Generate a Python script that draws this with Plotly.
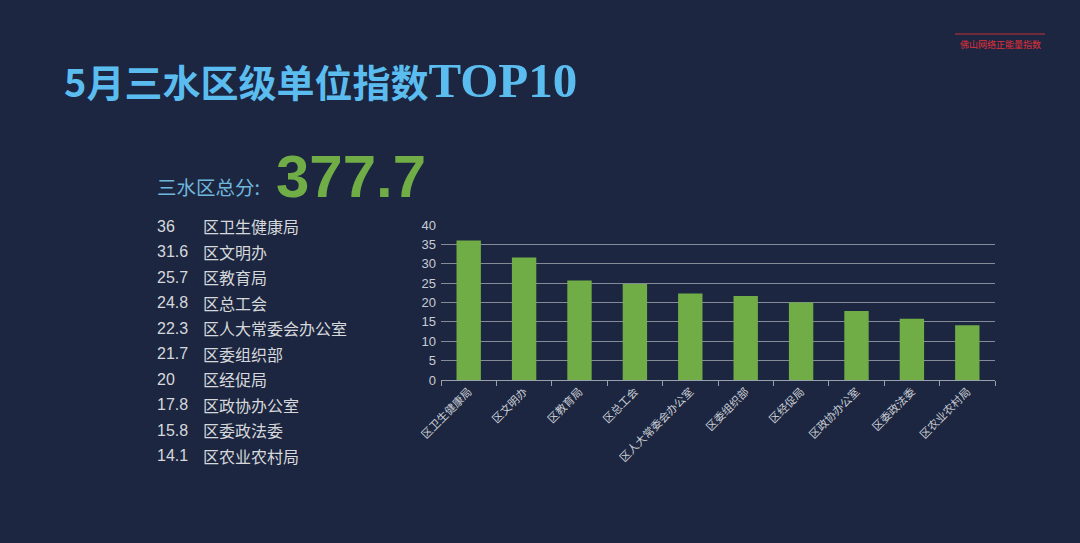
import plotly.graph_objects as go

categories = ["区卫生健康局", "区文明办", "区教育局", "区总工会", "区人大常委会办公室",
              "区委组织部", "区经促局", "区政协办公室", "区委政法委", "区农业农村局"]
values = [36, 31.6, 25.7, 24.8, 22.3, 21.7, 20, 17.8, 15.8, 14.1]
total_score = "377.7"
y_ticks = [0, 5, 10, 15, 20, 25, 30, 35, 40]

W, H = 1080, 543
BG = "#1c2640"
CJK = "Noto Sans CJK SC"
XS, YS = 0, 0

fig = go.Figure()
fig.add_trace(go.Bar(x=categories, y=values, marker=dict(color="#70ad47", line=dict(width=0)),
                     hoverinfo="x+y"))

def px(x):
    return x / W

def py(y):
    return 1 - y / H

fig.update_layout(
    width=W, height=H, autosize=False,
    margin=dict(l=0, r=0, t=0, b=0, pad=0, autoexpand=False),
    paper_bgcolor=BG, plot_bgcolor=BG,
    showlegend=False,
    bargap=0.56,
    font=dict(family=CJK, color="#d0d3d9"),
    xaxis=dict(domain=[px(441), px(995)], type="category", showgrid=False, automargin=False,
               showline=True, linecolor="#9aa0aa", linewidth=1,
               ticks="outside", ticklen=5, tickcolor="#9aa0aa", tickson="boundaries",
               tickangle=-45, tickfont=dict(size=11, color="#c8ccd4", family=CJK)),
    yaxis=dict(domain=[py(380), py(225)], range=[0, 40], tickvals=y_ticks, automargin=False,
               showgrid=True, gridcolor="#858b96", gridwidth=1, zeroline=False,
               showline=False, ticks="", ticklen=0, ticklabelstandoff=4,
               tickfont=dict(size=13, color="#c8ccd4", family="Liberation Sans")),
)

ann = []
# title
ann.append(dict(text="<b>5月三水区级单位指数<span style='font-family:Liberation Serif;font-size:49px'>TOP10</span></b>",
                x=px(62), y=py(80), xref="paper", yref="paper", xshift=XS, yshift=YS,
                xanchor="left", yanchor="middle", showarrow=False,
                font=dict(size=38, color="#5bbcef", family=CJK)))
# brand
ann.append(dict(text="佛山网络正能量指数", x=px(1000), y=py(44), xref="paper", yref="paper",
                xanchor="center", yanchor="middle", showarrow=False,
                font=dict(size=9, color="#e0303a", family=CJK)))
# total
ann.append(dict(text="三水区总分:", x=px(155), y=py(186), xref="paper", yref="paper",
                xshift=XS, yshift=YS, xanchor="left", yanchor="middle", showarrow=False,
                font=dict(size=19.5, color="#6fb6dc", family=CJK)))
ann.append(dict(text="<b>" + total_score + "</b>", x=px(274), y=py(177), xref="paper", yref="paper",
                xshift=XS, yshift=YS, xanchor="left", yanchor="middle", showarrow=False,
                font=dict(size=60, color="#70ad47", family="Liberation Sans")))
# list
for i, (c, v) in enumerate(zip(categories, values)):
    yy = 226 + i * 25.55
    ann.append(dict(text=f"{v:g}", x=px(155), y=py(yy), xref="paper", yref="paper",
                    xshift=XS, yshift=YS, xanchor="left", yanchor="middle", showarrow=False,
                    font=dict(size=16, color="#d6d8dc", family="Liberation Sans")))
    ann.append(dict(text=c, x=px(201), y=py(yy), xref="paper", yref="paper",
                    xshift=XS, yshift=YS, xanchor="left", yanchor="middle", showarrow=False,
                    font=dict(size=16, color="#d6d8dc", family=CJK)))
fig.update_layout(annotations=ann,
                  shapes=[dict(type="line", xref="paper", yref="paper", x0=px(955), x1=px(1045),
                               y0=py(34), y1=py(34), line=dict(color="#c0303a", width=1))])

fig.write_html("out.html", config={"responsive": False, "displayModeBar": False},
               post_script="document.body.style.margin='0';document.body.style.overflow='hidden';document.body.style.background='" + BG + "';")
